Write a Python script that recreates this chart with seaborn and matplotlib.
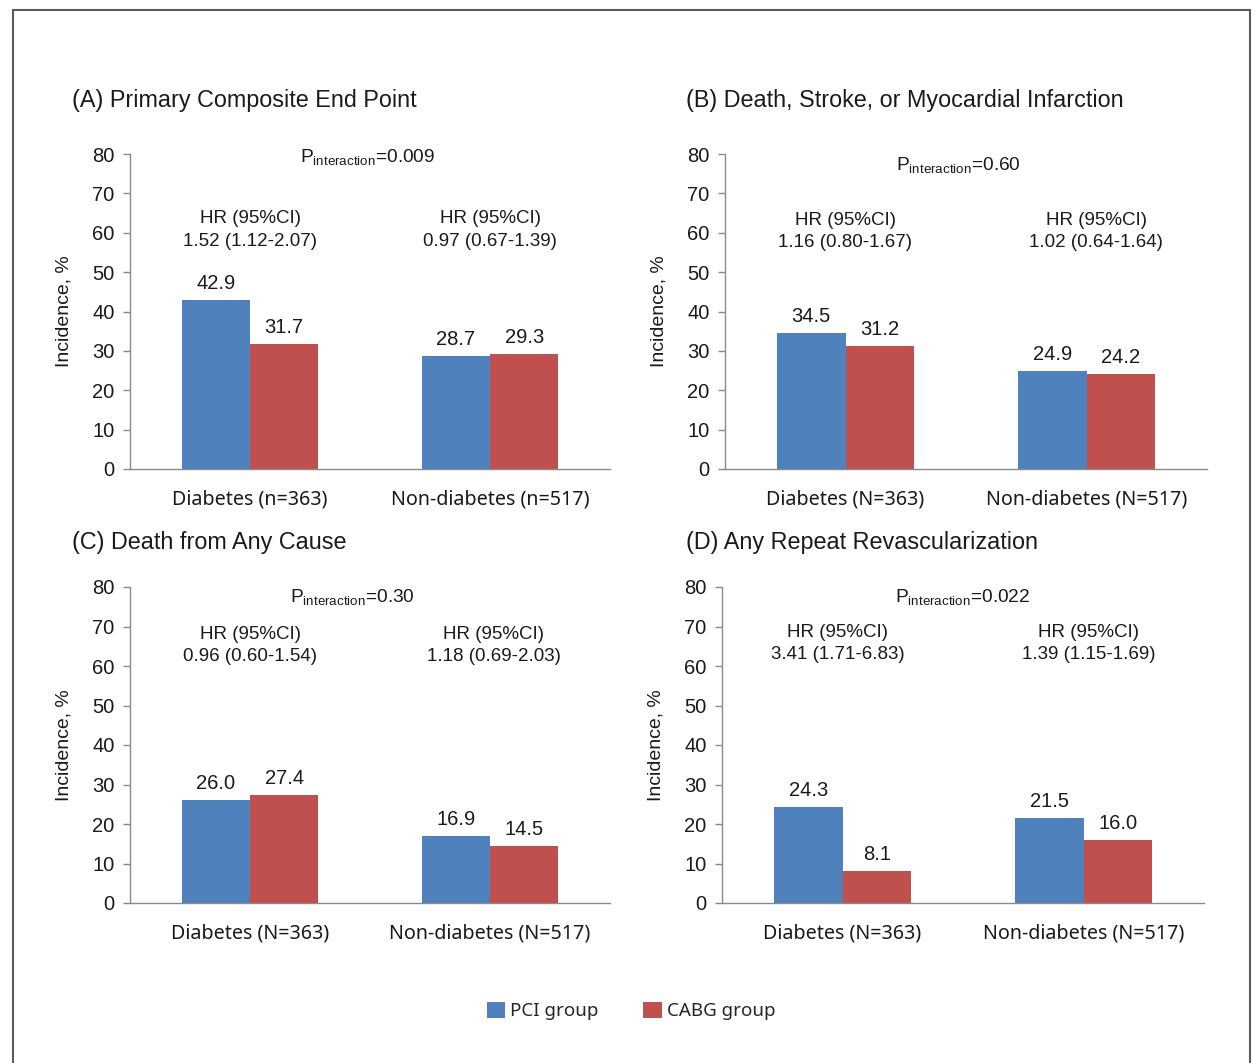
import matplotlib
matplotlib.use("Agg")
import matplotlib.pyplot as plt
from matplotlib.patches import Patch
from matplotlib.lines import Line2D
import seaborn as sns
import pandas as pd

# ---- data -------------------------------------------------------------
groups = ["PCI group", "CABG group"]
group_colors = ["#4F81BD", "#C0504D"]

panel_titles = [
    "(A) Primary Composite End Point",
    "(B) Death, Stroke, or Myocardial Infarction",
    "(C) Death from Any Cause",
    "(D) Any Repeat Revascularization",
]
categories_a = ["Diabetes (n=363)", "Non-diabetes (n=517)"]
categories_bcd = ["Diabetes (N=363)", "Non-diabetes (N=517)"]
panel_categories = [categories_a, categories_bcd, categories_bcd, categories_bcd]

pci_values = [
    [42.9, 28.7],
    [34.5, 24.9],
    [26.0, 16.9],
    [24.3, 21.5],
]
cabg_values = [
    [31.7, 29.3],
    [31.2, 24.2],
    [27.4, 14.5],
    [8.1, 16.0],
]
hr_texts = [
    ["1.52 (1.12-2.07)", "0.97 (0.67-1.39)"],
    ["1.16 (0.80-1.67)", "1.02 (0.64-1.64)"],
    ["0.96 (0.60-1.54)", "1.18 (0.69-2.03)"],
    ["3.41 (1.71-6.83)", "1.39 (1.15-1.69)"],
]
p_interaction = ["0.009", "0.60", "0.30", "0.022"]
y_ticks = [0, 10, 20, 30, 40, 50, 60, 70, 80]

# ---- style ------------------------------------------------------------
sns.set_style("white")
plt.rcParams["font.family"] = ["Liberation Sans", "DejaVu Sans"]
plt.rcParams["mathtext.fontset"] = "custom"
plt.rcParams["mathtext.rm"] = "Liberation Sans"
plt.rcParams["mathtext.it"] = "Liberation Sans"
plt.rcParams["mathtext.bf"] = "Liberation Sans"

AXIS_GREY = "#8a8a8a"
TEXT = "#1a1a1a"
NOTO = ["Noto Sans", "DejaVu Sans"]

W, H = 1257, 1063
fig = plt.figure(figsize=(W / 100, H / 100), dpi=100)

# axes rectangles (left, bottom, width, height) in figure fractions
axes_rects = [
    (130 / W, (H - 469) / H, 480 / W, 315 / H),
    (725 / W, (H - 469) / H, 482 / W, 315 / H),
    (130 / W, (H - 903) / H, 480 / W, 316 / H),
    (722 / W, (H - 903) / H, 482 / W, 316 / H),
]
title_pos = [(72, 101), (686, 101), (72, 543), (686, 543)]
p_pos = [(0.49, 79.2), (0.47, 77.2), (0.425, 77.5), (0.50, 77.5)]
hr_pos = [
    [(0.0, 63.5, 57.9), (1.0, 63.5, 57.9)],
    [(0.0, 63.0, 57.4), (1.04, 63.0, 57.4)],
    [(0.0, 68.1, 62.5), (1.015, 68.1, 62.5)],
    [(-0.02, 68.4, 62.8), (1.02, 68.4, 62.8)],
]

for i in range(4):
    ax = fig.add_axes(axes_rects[i])
    cats = panel_categories[i]
    df = pd.DataFrame({
        "Category": cats + cats,
        "Group": [groups[0]] * 2 + [groups[1]] * 2,
        "Incidence": pci_values[i] + cabg_values[i],
    })
    sns.barplot(
        data=df, x="Category", y="Incidence", hue="Group",
        order=cats, hue_order=groups, palette=group_colors,
        width=0.57, gap=0, dodge=True, legend=False,
        errorbar=None, saturation=1, linewidth=0, ax=ax,
    )
    for cont in ax.containers:
        ax.bar_label(cont, fmt="%.1f", padding=5, fontsize=14.5, color=TEXT)

    ax.set_xlim(-0.5, 1.5)
    ax.set_ylim(0, 80)
    ax.set_yticks(y_ticks)
    ax.set_yticklabels([str(t) for t in y_ticks], fontsize=14.5, color=TEXT)
    ax.set_xticks([0, 1])
    ax.set_xticklabels(cats, fontsize=14.2, color=TEXT, family=NOTO)
    ax.set_xticks([-0.5, 0.5, 1.5], minor=True)
    ax.tick_params(axis="x", which="major", length=0, pad=15)
    ax.tick_params(axis="x", which="minor", length=6, width=1, color=AXIS_GREY, direction="out")
    ax.tick_params(axis="y", length=5, width=1, color=AXIS_GREY, direction="out", pad=6, left=True)
    ax.set_xlabel("")
    ax.set_ylabel("Incidence, %", fontsize=14, color=TEXT, labelpad=14)

    for side in ("top", "right"):
        ax.spines[side].set_visible(False)
    for side in ("left", "bottom"):
        ax.spines[side].set_color(AXIS_GREY)
        ax.spines[side].set_linewidth(1)

    px, py = p_pos[i]
    ax.text(px, py, r"P$_{\mathrm{interaction}}$=" + p_interaction[i],
            ha="center", va="center", fontsize=13.8, color=TEXT)
    for j in range(2):
        hx, hy1, hy2 = hr_pos[i][j]
        ax.text(hx, hy1, "HR (95%CI)", ha="center", va="center", fontsize=13.5, color=TEXT)
        ax.text(hx, hy2, hr_texts[i][j], ha="center", va="center", fontsize=13.5, color=TEXT)

    tx, ty = title_pos[i]
    fig.text(tx / W, (H - ty) / H, panel_titles[i], ha="left", va="center",
             fontsize=16.8, color=TEXT)

# shared legend
handles = [Patch(facecolor=c, edgecolor="none") for c in group_colors]
fig.legend(handles, groups, loc="center", bbox_to_anchor=(631 / W, (H - 1011) / H),
           ncol=2, frameon=False, handlelength=1.0, handleheight=1.0,
           handletextpad=0.25, columnspacing=2.4,
           prop={"family": NOTO, "size": 13.5})

# outer frame (open at the bottom)
frame_kw = dict(color="#5a5a5a", linewidth=1.5, transform=fig.transFigure)
xl, xr, yt = 13 / W, 1250 / W, (H - 10) / H
fig.add_artist(Line2D([xl, xr], [yt, yt], **frame_kw))
fig.add_artist(Line2D([xl, xl], [0, yt], **frame_kw))
fig.add_artist(Line2D([xr, xr], [0, yt], **frame_kw))

fig.savefig("out.png", dpi=100, facecolor="white")
